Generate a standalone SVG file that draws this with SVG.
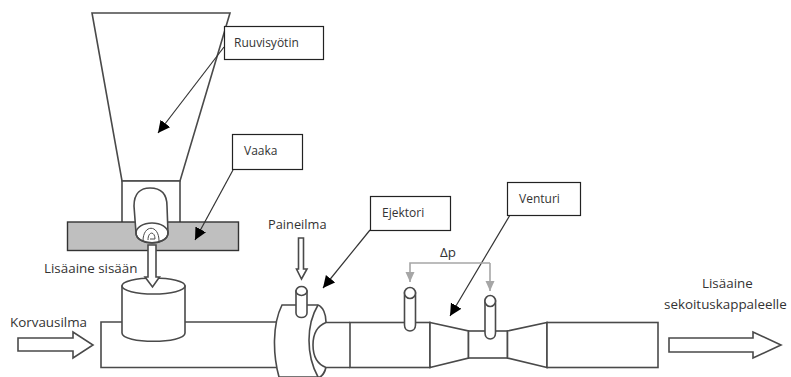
<svg xmlns="http://www.w3.org/2000/svg" width="791" height="377" viewBox="0 0 791 377">
<defs>
<marker id="bk" markerUnits="userSpaceOnUse" markerWidth="14" markerHeight="14" refX="12" refY="6" orient="auto"><path d="M0 0L12 6L0 12Z" fill="#000"/></marker>
<marker id="gr" markerUnits="userSpaceOnUse" markerWidth="12" markerHeight="12" refX="10" refY="4.5" orient="auto"><path d="M0 0L10 4.5L0 9Z" fill="#a6a6a6"/></marker>
</defs>
<style>
.s{fill:none;stroke:#4a4a4a;stroke-width:1.6}
.w{fill:#fff;stroke:#4a4a4a;stroke-width:1.6}
.box{fill:#fff;stroke:#222;stroke-width:1.2}
.t{font-family:"Open Sans","Noto Sans",sans-serif;font-size:12px;fill:#333}
.l{font-size:13.400px}
.p{font-size:12.800px}
.c{stroke:#333;stroke-width:1.2;fill:none;marker-end:url(#bk)}
.g{stroke:#a6a6a6;stroke-width:1.6;fill:none;marker-end:url(#gr)}
</style>
<rect width="791" height="377" fill="#fff"/>
<g id="hopper">
<path class="w" d="M92 13H230L180 181H122Z"/>
<rect class="w" x="122" y="181" width="58" height="45"/>
</g>
<g id="scale">
<rect x="67.500" y="222" width="171" height="28.500" fill="#bfbfbf" stroke="#333" stroke-width="1.400"/>
</g>
<g id="feeder">
<path class="w" d="M134 206C134 193 141 188 150 188C160 188 167 193 167 206L168 233C168 246 136 246 136 233Z"/>
<ellipse class="s" cx="152" cy="233" rx="16" ry="10"/>
<path class="s" stroke-width="1" style="stroke-width:1" d="M143 241C143 224 159 224 159 241M148 240C148 231 155 231 155 239H150"/>
</g>
<g id="pipe">
<path class="s" d="M122 322H101V367.500H277M185 322H277"/>
<rect class="w" x="350" y="322.500" width="80" height="45"/>
<path class="w" d="M430 322.500L468.500 331V358L430 367.500Z"/>
<rect class="w" x="468.500" y="331" width="39" height="27"/>
<path class="w" d="M507.500 331L547 322.500V367.500L507.500 358Z"/>
<rect class="w" x="547" y="322.500" width="111" height="45"/>
</g>
<g id="tank">
<path class="w" d="M122 286V333C122 344 185 344 185 333V286Z"/>
<ellipse class="w" cx="153.500" cy="286" rx="31.500" ry="8"/>
</g>
<g id="ejector">
<path class="w" d="M282 305H318C323 307 326 314 326 322V367C325 372 322 376 320 377H279C273 355 272 325 282 305Z"/>
<path class="s" d="M318 305C306 325 306 355 318 377"/>
<path d="M349 322.500H326C317 326 313 335 313 345C313 355 317 364 326 367.500H349Z" fill="#fff"/>
<path class="s" d="M350 322.500H326C317 326 313 335 313 345C313 355 317 364 326 367.500H350"/>
</g>
<g id="nozzles">
<path class="w" d="M296 291V313C296 319 307 319 307 313V291Z"/>
<ellipse class="w" cx="301.500" cy="291" rx="5.500" ry="4.500"/>
<path class="w" d="M404.500 293V325C404.500 333 415.500 333 415.500 325V293Z"/>
<ellipse class="w" cx="410" cy="293" rx="5.500" ry="5.500"/>
<path class="w" d="M485 301V333C485 341 495.500 341 495.500 333V301Z"/>
<ellipse class="w" cx="490.200" cy="301" rx="5.300" ry="5.500"/>
</g>
<g id="flow-arrows">
<path class="w" d="M298.500 238H303.500V269H307L301.500 279L296.500 269H298.500Z" stroke-width="1.200"/>
<path class="w" d="M148 245H156V277H159.500L152.500 287L145 277H148Z"/>
<path class="w" d="M18 338H73V332L93 345L73 358V351H18Z" stroke-width="1.300"/>
<path class="w" d="M669 338H753V332L781 345L753 358V352H669Z" stroke-width="1.300"/>
</g>
<g id="connectors">
<path class="c" d="M224 47L158 133"/>
<path class="c" d="M233 170L195 240"/>
<path class="c" d="M370 230L323 288"/>
<path class="c" d="M510 215L450 316"/>
<path class="g" d="M490 263H410V282"/>
<path class="g" d="M490 263V291"/>
</g>
<g id="label-ruuvisyotin"><rect class="box" x="224.500" y="26.500" width="99" height="33"/><text class="t" x="234" y="47">Ruuvisyötin</text></g>
<g id="label-vaaka"><rect class="box" x="232.500" y="134.500" width="70" height="35"/><text class="t" x="244" y="155">Vaaka</text></g>
<g id="label-ejektori"><rect class="box" x="370.500" y="196.500" width="80" height="34"/><text class="t" x="382" y="217">Ejektori</text></g>
<g id="label-venturi"><rect class="box" x="507.500" y="182.500" width="73" height="33"/><text class="t" x="519" y="203">Venturi</text></g>
<g id="labels">
<text class="t p" x="268" y="229">Paineilma</text>
<text class="t l" x="44" y="273">Lisäaine sisään</text>
<text class="t l" x="10" y="327">Korvausilma</text>
<text class="t l" x="440" y="257">Δp</text>
<text class="t l" x="702" y="288">Lisäaine</text>
<text class="t l" x="664" y="309">sekoituskappaleelle</text>
</g>
</svg>
